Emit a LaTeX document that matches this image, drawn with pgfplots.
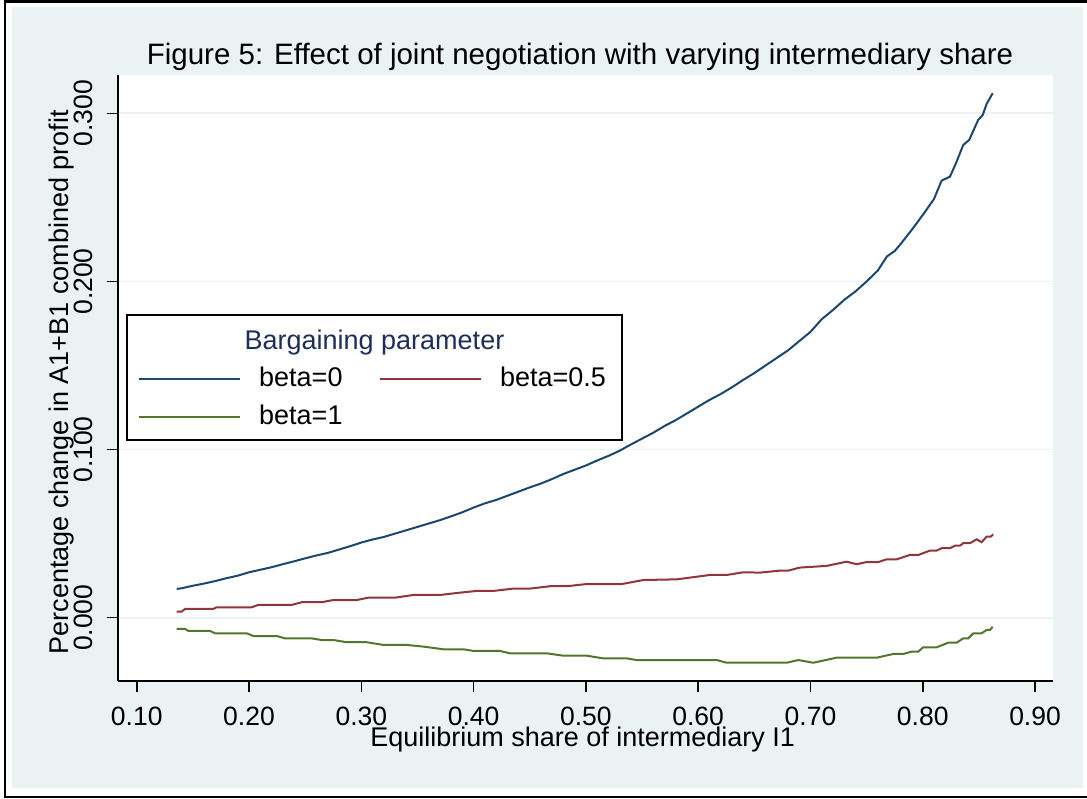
\documentclass[border=0pt]{standalone}
\usepackage{pgfplots}
\pgfplotsset{compat=1.18}
\usepackage{fontspec}
\setmainfont{Liberation Sans}
\definecolor{bg}{RGB}{234,242,243}
\definecolor{snavy}{RGB}{26,71,111}
\definecolor{smaroon}{RGB}{144,53,59}
\definecolor{sgreen}{RGB}{85,117,47}
\definecolor{dknavy}{RGB}{30,45,90}
\begin{document}
\begin{tikzpicture}[x=1pt,y=1pt]
\useasboundingbox (0,0) rectangle (1087,799);
\fill[bg] (12,11) rectangle (1083,792);
\draw[line width=2.5pt] (5,2) rectangle (1100,797.5);
\begin{axis}[
  at={(118pt,118pt)}, anchor=south west,
  scale only axis, width=935pt, height=606pt,
  xmin=0.0833, xmax=0.916, ymin=-0.03766, ymax=0.3228,
  axis background/.style={fill=white},
  axis lines*=left,
  axis line style={line width=2pt, black},
  every tick/.style={line width=1.5pt, black},
  tick align=outside, major tick length=11pt,
  xtick={0.1,0.2,...,0.9}, ytick={0,0.1,0.2,0.3},
  ymajorgrids, major grid style={line width=1.8pt, color=bg},
  /pgf/number format/assume math mode=true,
  xticklabel style={/pgf/number format/.cd, fixed, fixed zerofill, precision=2, /tikz/.cd, font=\fontsize{26.5}{30}\selectfont, inner sep=0pt, anchor=north, yshift=-15pt},
  yticklabel style={/pgf/number format/.cd, fixed, fixed zerofill, precision=3, /tikz/.cd, font=\fontsize{26.5}{30}\selectfont, inner sep=0pt, text depth=14pt, rotate=90, anchor=south},
  scaled ticks=false,
  xlabel={Equilibrium share of intermediary I1},
  ylabel={Percentage change in A1+B1 combined profit},
  xlabel style={font=\fontsize{27}{30}\selectfont, inner sep=0pt, at={(axis description cs:0.497,0)}, anchor=base, yshift=-66pt},
  ylabel style={font=\fontsize{27}{30}\selectfont, inner sep=0pt, at={([xshift=-49.5pt]axis description cs:0,0.493)}, anchor=base},
  legend style={at={(axis description cs:0.0214,0.518)}, anchor=north west, draw=none, fill=none, inner sep=0pt,
    font=\fontsize{27}{30}\selectfont,
    nodes={inner sep=0pt, text height=19pt, text depth=5pt, anchor=west},
    row sep=14pt,
    /tikz/every odd column/.append style={column sep=18pt},
    /tikz/every even column/.append style={column sep=36.5pt}},
  legend columns=2,
  legend cell align=left,
  legend image code/.code={\draw[#1] (0pt,0pt) -- (101pt,0pt);},
  every axis plot/.append style={line width=2pt},
]
\addplot[snavy] table {
x y
0.1356 0.0171
0.140 0.0175
0.150 0.0190
0.160 0.0203
0.170 0.0218
0.180 0.0235
0.190 0.0250
0.200 0.0270
0.210 0.0285
0.220 0.0300
0.230 0.0318
0.240 0.0335
0.250 0.0353
0.260 0.0370
0.270 0.0385
0.280 0.0405
0.290 0.0425
0.300 0.0447
0.310 0.0465
0.320 0.0480
0.330 0.0500
0.340 0.0520
0.350 0.0540
0.360 0.0560
0.370 0.0580
0.380 0.0603
0.390 0.0627
0.400 0.0655
0.410 0.0680
0.420 0.0700
0.430 0.0725
0.440 0.0750
0.450 0.0775
0.460 0.0798
0.470 0.0825
0.480 0.0855
0.490 0.0880
0.500 0.0905
0.510 0.0935
0.520 0.0962
0.530 0.0993
0.540 0.1030
0.550 0.1065
0.560 0.1100
0.570 0.1140
0.580 0.1175
0.590 0.1215
0.600 0.1255
0.610 0.1295
0.620 0.1330
0.630 0.1370
0.640 0.1414
0.650 0.1455
0.660 0.1500
0.670 0.1545
0.680 0.1590
0.690 0.1645
0.700 0.1700
0.710 0.1775
0.720 0.1830
0.730 0.1890
0.740 0.1940
0.750 0.2000
0.760 0.2065
0.768 0.2148
0.775 0.2181
0.780 0.2220
0.790 0.2305
0.800 0.2395
0.810 0.2490
0.8168 0.2600
0.8242 0.2623
0.830 0.2710
0.8361 0.2812
0.8414 0.2842
0.8494 0.2961
0.8534 0.2990
0.8569 0.3056
0.8623 0.3120
};
\addlegendentry{beta=0}
\addplot[smaroon] table {
x y
0.1356 0.0036
0.140 0.0036
0.143 0.0052
0.168 0.0052
0.1712 0.0062
0.2024 0.0062
0.2083 0.0076
0.238 0.0076
0.2469 0.0092
0.2647 0.0092
0.2751 0.0105
0.2959 0.0105
0.3062 0.0119
0.3300 0.0119
0.3463 0.0135
0.3700 0.0135
0.3880 0.0149
0.4028 0.0159
0.4176 0.0159
0.4354 0.0173
0.4502 0.0173
0.4680 0.0187
0.4829 0.0187
0.5007 0.0200
0.5319 0.0200
0.5512 0.0224
0.5809 0.0228
0.6105 0.0254
0.6254 0.0254
0.6402 0.0270
0.6550 0.0268
0.6728 0.0280
0.6802 0.0280
0.6906 0.0298
0.7144 0.0308
0.7322 0.0333
0.7411 0.0318
0.7500 0.0331
0.7604 0.0331
0.7678 0.0347
0.7767 0.0347
0.7886 0.0373
0.7960 0.0373
0.8064 0.0399
0.8124 0.0399
0.8168 0.0413
0.8242 0.0413
0.8286 0.0428
0.8330 0.0428
0.8361 0.0443
0.8420 0.0443
0.8480 0.0466
0.8524 0.0449
0.8569 0.0482
0.8605 0.0482
0.8628 0.0496
};
\addlegendentry{beta=0.5}
\addplot[sgreen] table {
x y
0.1356 -0.0067
0.1430 -0.0067
0.1460 -0.0079
0.1653 -0.0079
0.1697 -0.0093
0.1980 -0.0093
0.2038 -0.0109
0.2247 -0.0109
0.2320 -0.0123
0.2558 -0.0123
0.2647 -0.0133
0.2751 -0.0133
0.2870 -0.0146
0.3048 -0.0146
0.3196 -0.0162
0.3400 -0.0162
0.3553 -0.0172
0.3730 -0.0188
0.3909 -0.0188
0.4000 -0.0198
0.4235 -0.0198
0.4324 -0.0212
0.4650 -0.0212
0.4799 -0.0226
0.5007 -0.0226
0.5155 -0.0242
0.5363 -0.0242
0.5452 -0.0252
0.6165 -0.0252
0.6254 -0.0268
0.6788 -0.0268
0.6892 -0.0252
0.7025 -0.0268
0.7233 -0.0238
0.7590 -0.0238
0.7737 -0.0216
0.7826 -0.0216
0.7900 -0.0202
0.7960 -0.0202
0.8004 -0.0176
0.8124 -0.0176
0.8227 -0.0149
0.8301 -0.0149
0.8361 -0.0123
0.8405 -0.0123
0.8450 -0.0093
0.8524 -0.0093
0.8569 -0.0073
0.8598 -0.0073
0.8623 -0.0054
};
\addlegendentry{beta=1}
\end{axis}
\draw[line width=2pt] (127,484) rectangle (622,359);
\node[anchor=base, text=dknavy, font=\fontsize{27}{30}\selectfont, inner sep=0pt] at (374.5,449) {Bargaining parameter};
\node[anchor=base, font=\fontsize{29.5}{32}\selectfont, inner sep=0pt] at (580,734) {Figure 5: Effect of joint negotiation with varying intermediary share};
\end{tikzpicture}
\end{document}
